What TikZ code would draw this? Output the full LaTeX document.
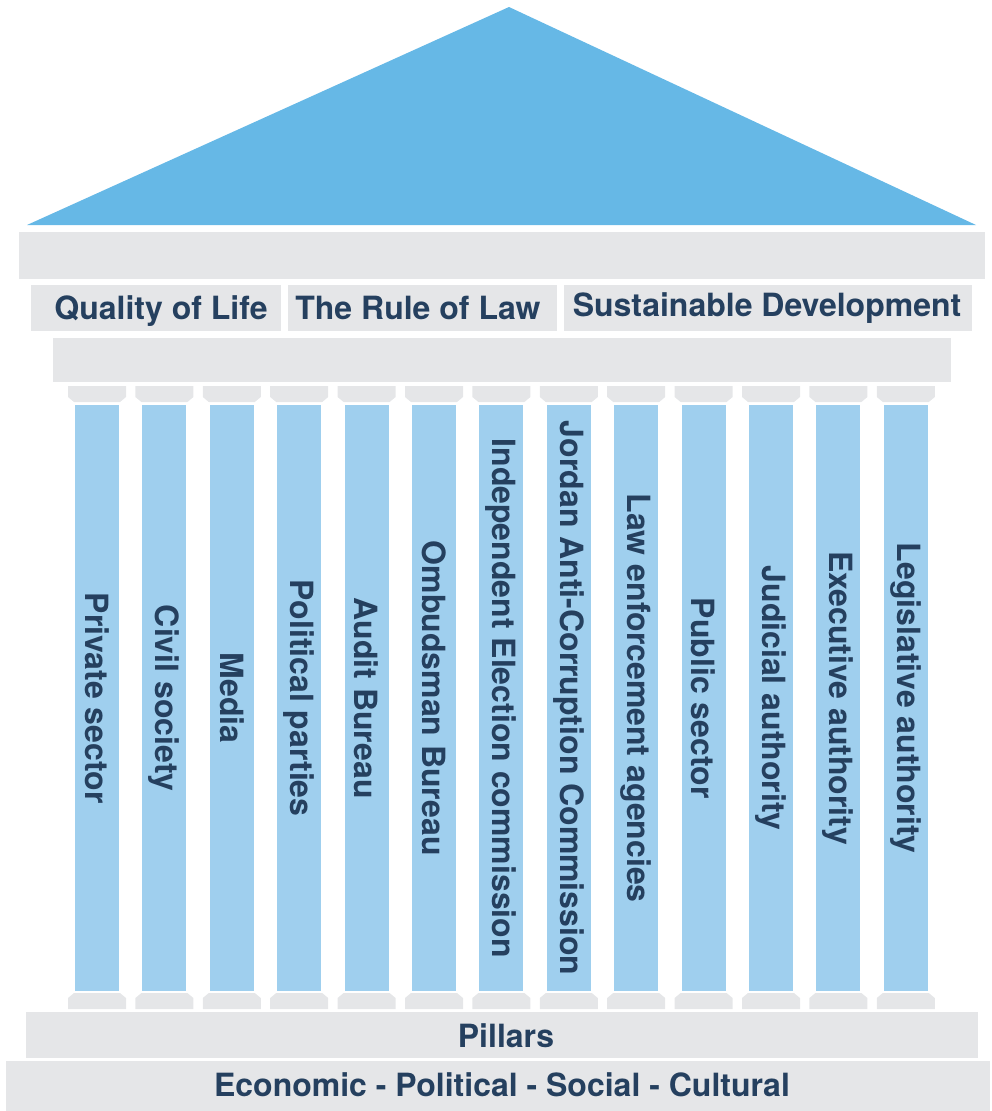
\documentclass[tikz,border=0pt]{standalone}
\usepackage{fontspec}
\setmainfont{TeX Gyre Heros}
\definecolor{roofblue}{HTML}{66B8E6}
\definecolor{colblue}{HTML}{9FCFEE}
\definecolor{stone}{HTML}{E5E6E8}
\definecolor{ink}{HTML}{25405F}
\begin{document}
\begin{tikzpicture}[x=1pt,y=-1pt,
  slab/.style={fill=stone, draw=none, inner sep=0pt, anchor=north west},
  label/.style={text=ink, font=\fontsize{32}{36}\selectfont\bfseries,
    inner sep=0pt, anchor=base},
  shaft/.style={fill=colblue, draw=none, inner sep=0pt, anchor=north,
    minimum width=44pt, minimum height=586pt},
  shafttext/.style={text=ink, font=\fontsize{32}{36}\selectfont\bfseries,
    inner sep=0pt, rotate=-90}]
\useasboundingbox (0,0) rectangle (991,1111);

% roof
\fill[roofblue] (27,225) -- (509,7) -- (976,225) -- cycle;

% entablature and label boxes
\node[slab, minimum width=966pt, minimum height=47pt] (frieze) at (19,232) {};
\node[slab, minimum width=250pt, minimum height=46pt] (boxA) at (31,285) {};
\node[slab, minimum width=269pt, minimum height=46pt] (boxB) at (288,285) {};
\node[slab, minimum width=408pt, minimum height=46pt] (boxC) at (564,285) {};
\node[label] (tA) at (161,319) {Quality of Life};
\node[label] (tB) at (418,319) {The Rule of Law};
\node[label] (tC) at (767,316) {Sustainable Development};
\node[slab, minimum width=898pt, minimum height=44pt] (architrave) at (53,338) {};

% columns with capitals and bases
\foreach \name [count=\i from 0] in {Private sector, Civil society, Media,
  Political parties, Audit Bureau, Ombudsman Bureau,
  Independent Election commission, Jordan Anti-Corruption Commission,
  Law enforcement agencies, Public sector, Judicial authority,
  Executive authority, Legislative authority} {
  \pgfmathsetmacro{\cx}{97+67.4*\i}
  \fill[stone] (\cx-29,386) -- (\cx+29,386) -- (\cx+29,397) -- (\cx+23,402)
    -- (\cx-23,402) -- (\cx-29,397) -- cycle;
  \fill[stone] (\cx-23,993) -- (\cx+23,993) -- (\cx+29,998) -- (\cx+29,1009)
    -- (\cx-29,1009) -- (\cx-29,998) -- cycle;
  \node[shaft] (col\i) at (\cx,405) {};
  \node[shafttext] (coltext\i) at (col\i.center) {\name};
}

% base
\node[slab, minimum width=952pt, minimum height=46pt] (stylobate) at (26,1012) {};
\node[label] (pillars) at (506,1047) {Pillars};
\node[slab, minimum width=984pt, minimum height=50pt] (foundation) at (6,1061) {};
\node[label] (dims) at (502,1096) {Economic - Political - Social - Cultural};
\end{tikzpicture}
\end{document}
